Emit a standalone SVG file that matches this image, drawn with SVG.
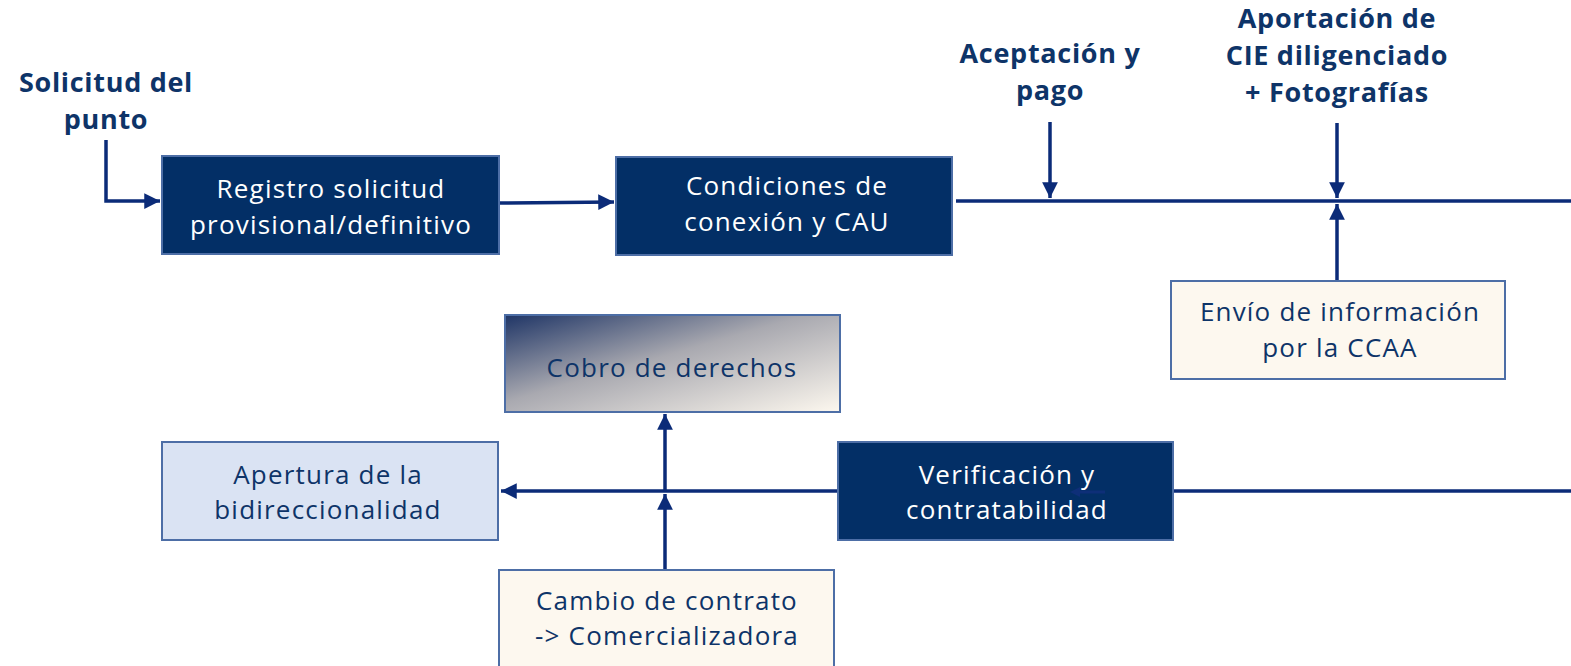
<svg xmlns="http://www.w3.org/2000/svg" width="1571" height="666" viewBox="0 0 1571 666">
<style>
.dark{fill:#032f66;stroke:#4d6ea6;stroke-width:2}
.cream{fill:#fdf8ef;stroke:#4d6ea6;stroke-width:2}
.light{fill:#dae3f3;stroke:#4d6ea6;stroke-width:2}
.t{font-family:"Open Sans","Noto Sans",sans-serif;font-size:26px;letter-spacing:1.2px;text-anchor:middle}
.w{fill:#ffffff}
.n{fill:#0e3468}
.lbl{font-family:"Open Sans","Noto Sans",sans-serif;font-size:27px;letter-spacing:0.7px;font-weight:bold;fill:#0e3468;text-anchor:middle}
.c{stroke:#0b2b78;stroke-width:3.5;fill:none}
</style>
<defs>
<marker id="ah" viewBox="0 0 10 10" refX="10" refY="5" markerWidth="4.5" markerHeight="4.5" markerUnits="strokeWidth" orient="auto">
<path d="M0,0 L10,5 L0,10 Z" fill="#0b2b78"/>
</marker>
<linearGradient id="g" x1="0" y1="0" x2="1" y2="1">
<stop offset="0" stop-color="#1f3566"/>
<stop offset="0.45" stop-color="#a9a9b0"/>
<stop offset="1" stop-color="#fdf8ef"/>
</linearGradient>
</defs>

<g id="labels">
<text class="lbl" x="106" y="92">Solicitud del</text>
<text class="lbl" x="106" y="129">punto</text>
<text class="lbl" x="1050" y="63">Aceptación y</text>
<text class="lbl" x="1050" y="100">pago</text>
<text class="lbl" x="1337" y="28">Aportación de</text>
<text class="lbl" x="1337" y="65">CIE diligenciado</text>
<text class="lbl" x="1337" y="102">+ Fotografías</text>
</g>

<g id="connectors">
<path class="c" d="M106,140 V201 H160" marker-end="url(#ah)"/>
<path class="c" d="M500,203 L614,202" marker-end="url(#ah)"/>
<path class="c" d="M956,201 H1571"/>
<path class="c" d="M1050,122 V198" marker-end="url(#ah)"/>
<path class="c" d="M1337,123 V198" marker-end="url(#ah)"/>
<path class="c" d="M1337,281 V204" marker-end="url(#ah)"/>
<path class="c" d="M1173,491 H1571"/>
<path class="c" d="M838,491 H501" marker-end="url(#ah)"/>
<path class="c" d="M665,570 V494" marker-end="url(#ah)"/>
<path class="c" d="M665,492 V414" marker-end="url(#ah)"/>
</g>

<g id="registro">
<rect class="dark" x="162" y="156" width="337" height="98"/>
<text class="t w" x="331" y="198">Registro solicitud</text>
<text class="t w" x="331" y="234">provisional/definitivo</text>
</g>
<g id="condiciones">
<rect class="dark" x="616" y="157" width="336" height="98"/>
<text class="t w" x="787" y="195">Condiciones de</text>
<text class="t w" x="787" y="231">conexión y CAU</text>
</g>
<g id="envio">
<rect class="cream" x="1171" y="281" width="334" height="98"/>
<text class="t n" x="1340" y="321">Envío de información</text>
<text class="t n" x="1340" y="357">por la CCAA</text>
</g>
<g id="cobro">
<rect x="505" y="315" width="335" height="97" fill="url(#g)" stroke="#4d6ea6" stroke-width="2"/>
<text class="t n" x="672" y="377">Cobro de derechos</text>
</g>
<g id="apertura">
<rect class="light" x="162" y="442" width="336" height="98"/>
<text class="t n" x="328" y="484">Apertura de la</text>
<text class="t n" x="328" y="519">bidireccionalidad</text>
</g>
<g id="verificacion">
<rect class="dark" x="838" y="442" width="335" height="98"/>
<path d="M1105,492 H1078" stroke="#0e2f78" stroke-width="3" fill="none"/>
<path d="M1070,492 L1080,487 L1080,497 Z" fill="#0e2f78"/>
<text class="t w" x="1007" y="484">Verificación y</text>
<text class="t w" x="1007" y="519">contratabilidad</text>
</g>
<g id="cambio">
<rect class="cream" x="499" y="570" width="335" height="110"/>
<text class="t n" x="667" y="610">Cambio de contrato</text>
<text class="t n" x="667" y="645">-&gt; Comercializadora</text>
</g>
</svg>
